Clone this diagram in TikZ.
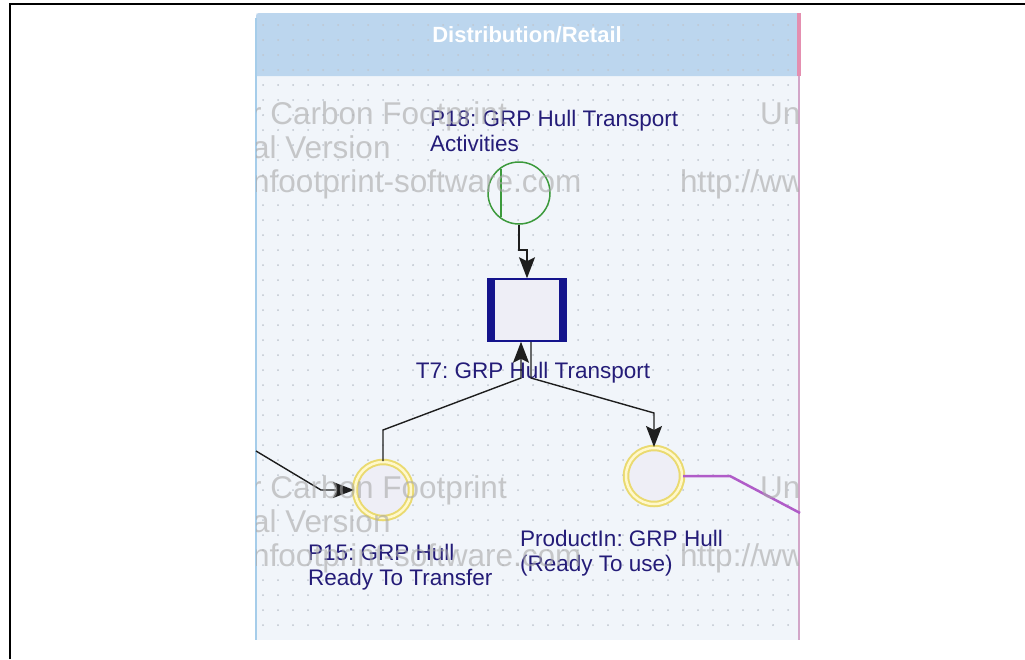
\documentclass[tikz,border=0pt]{standalone}
\usepackage{fontspec}
\setmainfont{Liberation Sans}
\usetikzlibrary{arrows.meta}
\definecolor{lanebg}{HTML}{F1F5FA}
\definecolor{headbg}{HTML}{BCD6EE}
\definecolor{dotc}{HTML}{BFC6CF}
\definecolor{navy}{HTML}{14148C}
\definecolor{labc}{HTML}{241C78}
\definecolor{wmark}{HTML}{A8A8A8}
\definecolor{placey}{HTML}{EADA70}
\definecolor{placeyl}{HTML}{FFF8CC}
\definecolor{greenc}{HTML}{3C9A3C}
\definecolor{purp}{HTML}{B05CC8}
\definecolor{conn}{HTML}{1E1E1E}
\definecolor{laneleft}{HTML}{A6CDEA}
\definecolor{laneright}{HTML}{D2A6C8}
\definecolor{pinkhead}{HTML}{E48FB0}
\definecolor{placefill}{HTML}{EEEEF6}
\begin{document}
\frenchspacing
\begin{tikzpicture}[x=1pt,y=-1pt,
  lbl/.style={text=labc, font=\frenchspacing\fontsize{22.5}{25}\selectfont, align=left, inner sep=0pt},
  wm/.style={text=wmark, opacity=0.6, font=\fontsize{31.5}{34}\selectfont, inner sep=0pt, anchor=base west},
  place/.style={circle, minimum size=56pt, inner sep=0pt, fill=placefill},
  yplace/.style={place, draw=placey, line width=2pt, double=placeyl, double distance=2.5pt},
  gplace/.style={circle, minimum size=62pt, inner sep=0pt, draw=greenc, line width=1.5pt},
  transbox/.style={rectangle, minimum width=78pt, minimum height=62pt, draw=navy, line width=1.5pt, fill=placefill, inner sep=0pt},
  arc/.style={draw=conn, line width=1.4pt, -{Stealth[length=21pt,width=16pt,inset=4pt]}},
  plink/.style={draw=purp, line width=2.5pt}
]
\useasboundingbox (0,0) rectangle (1025,659);
\fill[white] (0,0) rectangle (1025,659);
% outer frame
\draw[line width=2pt] (10,659) -- (10,4) -- (1025,4);
% lane
\fill[lanebg] (256,13) rectangle (799,640);
\fill[headbg] (256,76) -- (256,16) arc[start angle=180,end angle=270,radius=3] -- (799,13) -- (799,76) -- cycle;
\fill[pinkhead] (797,13) rectangle (801,76);
\foreach \x in {263,278,...,793} {\foreach \y in {25,40,...,635} {\fill[dotc] (\x,\y) circle (1pt);}}
\draw[laneleft, line width=1.5pt] (256,18) -- (256,640);
\draw[laneright, line width=2.5pt] (799,76) -- (799,640);
\node[text=white, font=\bfseries\fontsize{22}{26}\selectfont] (title) at (527,35) {Distribution/Retail};
% nodes
\node[gplace] (p18) at (519,193) {};
\draw[greenc, line width=1.5pt] ([shift={(-18,-24)}]p18.center) -- ([shift={(-18,24)}]p18.center);
\node[transbox] (t7) at (527,310) {};
\fill[navy] (t7.north west) rectangle ([xshift=8pt]t7.south west);
\fill[navy] ([xshift=-8pt]t7.north east) rectangle (t7.south east);
\node[yplace] (p15) at (383,490) {};
\node[yplace] (pin) at (654,476) {};
\coordinate (lin) at (256,451);
\coordinate (pout) at (800,513);
% labels
\node[lbl, anchor=north west] (p18l) at (430,110) {P18: GRP Hull Transport\\Activities};
\node[lbl] (t7l) at (533,373) {T7: GRP Hull Transport};
\node[lbl, anchor=north west] (p15l) at (308,544) {P15: GRP Hull\\Ready To Transfer};
\node[lbl, anchor=north west] (pinl) at (520,530) {ProductIn: GRP Hull\\(Ready To use)};
% connectors
\draw[arc] (p18.south) -- (519,250) -| (t7.north);
\draw[arc] (p15.north) -- (383,430) -- (521,378) -- ([xshift=-6pt]t7.south);
\draw[arc] ([xshift=4pt]t7.south) -- (531,378) -- (654,413) -- (pin.north);
\draw[arc] (lin) -- (321,490) -- (p15.west);
\draw[plink] (pin.east) -- (730,476) -- (pout);
% watermark
\begin{scope}
\clip (256,77) rectangle (798,640);
\node[wm] (w1) at (251,124) {r Carbon Footprint};
\node[wm] (w2) at (252,158) {al Version};
\node[wm] (w3) at (252,192) {nfootprint-software.com};
\node[wm] (w4) at (760,124) {Un};
\node[wm] (w5) at (680,192) {http://www};
\node[wm] (w6) at (251,498) {r Carbon Footprint};
\node[wm] (w7) at (252,532) {al Version};
\node[wm] (w8) at (252,566) {nfootprint-software.com};
\node[wm] (w9) at (760,498) {Un};
\node[wm] (w10) at (680,566) {http://www};
\end{scope}
\end{tikzpicture}
\end{document}
